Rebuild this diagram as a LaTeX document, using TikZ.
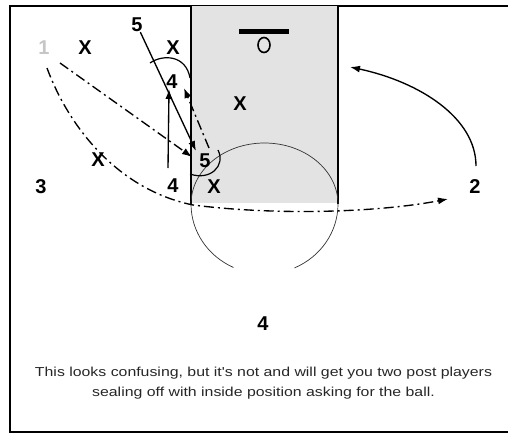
\documentclass[tikz,border=0pt]{standalone}
\usepackage{fontspec}
\setmainfont{Liberation Sans}
\newfontfamily\capfont[FakeStretch=1.22]{Liberation Sans}
\usetikzlibrary{arrows.meta}
\begin{document}
\begin{tikzpicture}[x=1pt,y=-1pt,
  lbl/.style={font=\fontsize{20}{20}\selectfont\bfseries, inner sep=0pt},
  captext/.style={font=\capfont\fontsize{13}{20}\selectfont, inner sep=0pt, anchor=base, text=black!85},
  tipstyle/.style={-{Latex[length=10pt,width=7pt]}},
  solidarrow/.style={line width=1.35pt, tipstyle},
  dashdotline/.style={line width=1.35pt, dash pattern=on 10pt off 4pt on 2pt off 4pt},
  dashdotarrow/.style={dashdotline, tipstyle},
  screenarc/.style={line width=1.2pt},
  laneline/.style={line width=1.2pt},
  circleline/.style={line width=0.7pt, black!80}]
\useasboundingbox (0,0) rectangle (508,434);
\begin{scope}
  \clip (0,0) rectangle (508,434);
  \draw[line width=1.6pt] (10,6) rectangle (514,432);
\end{scope}
% lane
\fill[gray!22] (191,6) rectangle (338,203);
\draw[laneline] (191,6) -- (191,204);
\draw[laneline] (338,6) -- (338,204);
% free throw circle
\draw[circleline] (191,204) arc[start angle=180, end angle=0, x radius=73.5, y radius=-61];
\draw[circleline] (191,204) arc[start angle=180, end angle=245, x radius=73.5, y radius=-70];
\draw[circleline] (338,204) arc[start angle=0, end angle=-66, x radius=73.5, y radius=-70];
% basket
\draw[line width=5pt] (239,31) -- (289,31);
\draw[line width=1.6pt] (264,45) ellipse[x radius=6, y radius=7.5];
% players
\node[lbl, text=gray!45] (p1) at (44,48) {1};
\node[lbl] (x1) at (85,48) {X};
\node[lbl] (x5) at (173,48) {X};
\node[lbl] (p5a) at (137,25) {5};
\node[lbl] (p4a) at (172,82) {4};
\node[lbl] (xl) at (240,104) {X};
\node[lbl] (p5b) at (205,161) {5};
\node[lbl] (x4) at (214,187) {X};
\node[lbl] (p4b) at (173,186) {4};
\node[lbl] (p3) at (41,187) {3};
\node[lbl] (x2) at (98,160) {X};
\node[lbl] (p2) at (475,187) {2};
\node[lbl] (p4c) at (263,324) {4};
% coordinates
\coordinate (t5) at (196,151);
\coordinate (s4) at (168,168);
\coordinate (t4) at (169,89);
\coordinate (s5b) at (209,148);
\coordinate (t5b) at (184,88);
\coordinate (s1a) at (60,63);
\coordinate (t1a) at (192,157);
\coordinate (s1b) at (47,68);
\coordinate (m1b) at (193,205);
\coordinate (t1b) at (448,199);
\coordinate (s2) at (476,166);
\coordinate (t2) at (350,67);
% movements
\draw[solidarrow] (p5a) -- (t5);
\draw[solidarrow] (s4) -- (t4);
\draw[dashdotarrow] (s5b) -- (t5b);
\draw[dashdotarrow] (s1a) -- (t1a);
\draw[dashdotarrow] (s1b) .. controls (70,130) and (120,190) .. (m1b)
   .. controls (280,216) and (380,212) .. (t1b);
\draw[solidarrow] (s2) .. controls (476,118) and (420,82) .. (t2);
% screens
\draw[screenarc] (150,63) .. controls (163,54) and (186,55) .. (190,78);
\draw[screenarc] (190,174) .. controls (210,181) and (226,166) .. (218,150);
% caption
\node[captext] (cap1) at (263.5,376) {This looks confusing, but it's not and will get you two post players};
\node[captext] (cap2) at (263.5,396) {sealing off with inside position asking for the ball.};
\end{tikzpicture}
\end{document}
